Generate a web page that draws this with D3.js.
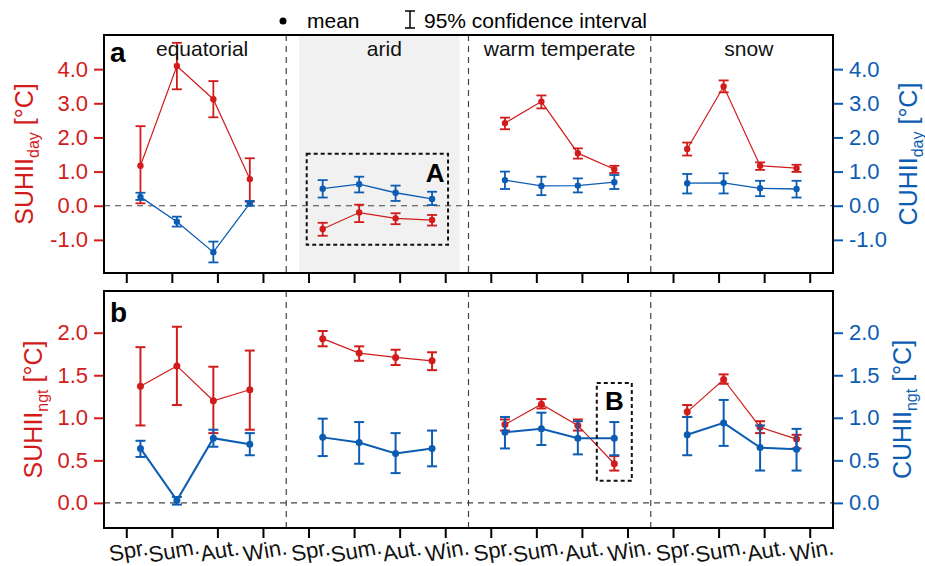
<!DOCTYPE html>
<html>
<head>
<meta charset="utf-8">
<script src="https://cdn.jsdelivr.net/npm/d3@7"></script>
<style>
  body { margin: 0; background: #fff; }
  svg text { font-family: "Liberation Sans", Arial, sans-serif; }
</style>
</head>
<body>
<div id="chart"></div>
<script>
// Data
const seasons = ["Spr.", "Sum.", "Aut.", "Win."];
const climates = ["equatorial", "arid", "warm temperate", "snow"];

// day (panel a), rows = climates, cols = seasons
const suhiiDay   = [[1.17, 4.09, 3.12, 0.78], [-0.68, -0.20, -0.37, -0.42], [2.42, 3.05, 1.54, 1.07], [1.66, 3.49, 1.17, 1.10]];
const suhiiDayLo = [[0.07, 3.41, 2.59, 0.12], [-0.88, -0.48, -0.54, -0.58], [2.24, 2.85, 1.38, 0.96], [1.47, 3.32, 1.05, 0.99]];
const suhiiDayHi = [[2.33, 4.77, 3.65, 1.39], [-0.50, 0.03, -0.22, -0.27], [2.58, 3.23, 1.68, 1.17], [1.85, 3.67, 1.27, 1.20]];
const cuhiiDay   = [[0.26, -0.47, -1.36, 0.07], [0.50, 0.63, 0.38, 0.20], [0.75, 0.58, 0.59, 0.69], [0.66, 0.67, 0.51, 0.49]];
const cuhiiDayLo = [[0.17, -0.61, -1.66, 0.00], [0.24, 0.39, 0.14, 0.02], [0.49, 0.31, 0.39, 0.49], [0.36, 0.36, 0.28, 0.24]];
const cuhiiDayHi = [[0.38, -0.32, -1.05, 0.14], [0.75, 0.85, 0.59, 0.41], [1.00, 0.85, 0.80, 0.90], [0.93, 0.95, 0.73, 0.73]];

// night (panel b)
const suhiiNgt   = [[1.37, 1.61, 1.20, 1.33], [1.93, 1.76, 1.71, 1.67], [0.92, 1.16, 0.91, 0.46], [1.07, 1.45, 0.89, 0.75]];
const suhiiNgtLo = [[0.91, 1.15, 0.82, 0.86], [1.84, 1.67, 1.62, 1.56], [0.85, 1.11, 0.85, 0.38], [1.01, 1.40, 0.82, 0.64]];
const suhiiNgtHi = [[1.83, 2.07, 1.60, 1.79], [2.02, 1.84, 1.80, 1.77], [0.98, 1.22, 0.98, 0.55], [1.15, 1.51, 0.96, 0.80]];
const cuhiiNgt   = [[0.64, 0.03, 0.76, 0.69], [0.77, 0.71, 0.58, 0.64], [0.83, 0.87, 0.76, 0.76], [0.80, 0.94, 0.65, 0.63]];
const cuhiiNgtLo = [[0.54, -0.02, 0.66, 0.56], [0.55, 0.46, 0.35, 0.43], [0.64, 0.68, 0.57, 0.56], [0.56, 0.67, 0.38, 0.38]];
const cuhiiNgtHi = [[0.73, 0.07, 0.86, 0.82], [0.99, 0.95, 0.82, 0.85], [1.01, 1.06, 0.96, 0.95], [1.01, 1.21, 0.91, 0.87]];

const dayTicks = [-1, 0, 1, 2, 3, 4];
const ngtTicks = [0, 0.5, 1, 1.5, 2];

// Layout
const W = 925, H = 566;
const RED = "#d21c1c", BLUE = "#0c5cb4";
const FONT_TICK = "22px", FONT_TEXT = "21px";
const plotLeft = 104, plotRight = 833;
const panelA = { top: 35, bottom: 273, domain: [-1.97, 5.0] };
const panelB = { top: 291, bottom: 528, domain: [-0.295, 2.49] };

const svg = d3.select("#chart").append("svg")
  .attr("width", W).attr("height", H);

// Scales
const xGroup = d3.scaleBand().domain(climates).range([plotLeft, plotRight]);
const xSeason = d3.scalePoint().domain(seasons).range([0, xGroup.bandwidth()]).padding(1);
const xTick = d3.scaleBand()
  .domain(climates.flatMap(c => seasons.map(s => c + "|" + s)))
  .range([plotLeft, plotRight]);

const fmt = d => d.toFixed(1);

function drawPanel(p, opt) {
  const y = d3.scaleLinear().domain(p.domain).range([p.bottom, p.top]);
  const g = svg.append("g");

  // arid shading (panel a only)
  if (opt.shadeArid) {
    g.append("rect")
      .attr("x", xGroup("arid") + 13)
      .attr("y", p.top + 1)
      .attr("width", xGroup.bandwidth() - 22)
      .attr("height", p.bottom - p.top - 2)
      .attr("fill", "#f1f1f1");
  }

  // group dividers
  g.selectAll(".divider")
    .data(climates.slice(1))
    .enter().append("line")
    .attr("x1", d => xGroup(d)).attr("x2", d => xGroup(d))
    .attr("y1", p.top).attr("y2", p.bottom)
    .attr("stroke", "#444").attr("stroke-width", 1.2)
    .attr("stroke-dasharray", "6,5");

  // zero line
  g.append("line")
    .attr("x1", plotLeft).attr("x2", plotRight)
    .attr("y1", y(0)).attr("y2", y(0))
    .attr("stroke", "#444").attr("stroke-width", 1.2)
    .attr("stroke-dasharray", "6,5");

  // series
  opt.series.forEach(s => {
    climates.forEach((c, ci) => {
      const pts = seasons.map((se, si) => ({
        x: xGroup(c) + xSeason(se),
        m: s.mean[ci][si], lo: s.lo[ci][si], hi: s.hi[ci][si]
      }));
      const sg = g.append("g");
      sg.append("path")
        .datum(pts)
        .attr("d", d3.line().x(d => d.x).y(d => y(d.m)))
        .attr("fill", "none")
        .attr("stroke", s.color)
        .attr("stroke-width", s.lineWidth);
      const eb = sg.selectAll(".eb").data(pts).enter().append("g");
      eb.append("line")
        .attr("x1", d => d.x).attr("x2", d => d.x)
        .attr("y1", d => y(d.lo)).attr("y2", d => y(d.hi))
        .attr("stroke", s.color).attr("stroke-width", s.barWidth);
      ["lo", "hi"].forEach(k => {
        eb.append("line")
          .attr("x1", d => d.x - 5).attr("x2", d => d.x + 5)
          .attr("y1", d => y(d[k])).attr("y2", d => y(d[k]))
          .attr("stroke", s.color).attr("stroke-width", s.barWidth);
      });
      eb.append("circle")
        .attr("cx", d => d.x).attr("cy", d => y(d.m))
        .attr("r", s.r).attr("fill", s.color);
    });
  });

  // annotation box
  if (opt.box) {
    const b = opt.box;
    const x0 = xGroup(b.climate) + xSeason(seasons[b.from]) - b.pad;
    const x1 = xGroup(b.climate) + xSeason(seasons[b.to]) + b.pad;
    g.append("rect")
      .attr("x", x0).attr("y", y(b.yHi))
      .attr("width", x1 - x0).attr("height", y(b.yLo) - y(b.yHi))
      .attr("fill", "none").attr("stroke", "#111")
      .attr("stroke-width", 2).attr("stroke-dasharray", "4,3");
    g.append("text")
      .attr("x", b.labelX(x0, x1)).attr("y", y(b.yHi) + b.labelDy)
      .attr("text-anchor", "middle")
      .attr("font-size", "26px").attr("font-weight", "bold")
      .text(b.label);
  }

  // frame
  g.append("rect")
    .attr("x", plotLeft).attr("y", p.top)
    .attr("width", plotRight - plotLeft).attr("height", p.bottom - p.top)
    .attr("fill", "none").attr("stroke", "#000").attr("stroke-width", 2);

  // left axis
  const la = g.append("g").attr("transform", `translate(${plotLeft - 1},0)`)
    .call(d3.axisLeft(y).tickValues(opt.ticks).tickFormat(fmt).tickSize(9).tickPadding(6));
  la.select(".domain").remove();
  la.selectAll("line").attr("stroke", RED).attr("stroke-width", 2);
  la.selectAll("text").attr("fill", RED).attr("font-size", FONT_TICK)
    .style("font-family", "'Liberation Sans', Arial, sans-serif");

  // right axis
  const ra = g.append("g").attr("transform", `translate(${plotRight + 1},0)`)
    .call(d3.axisRight(y).tickValues(opt.ticks).tickFormat(fmt).tickSize(9).tickPadding(6));
  ra.select(".domain").remove();
  ra.selectAll("line").attr("stroke", BLUE).attr("stroke-width", 2);
  ra.selectAll("text").attr("fill", BLUE).attr("font-size", FONT_TICK)
    .style("font-family", "'Liberation Sans', Arial, sans-serif");

  // bottom ticks
  const ba = g.append("g").attr("transform", `translate(0,${p.bottom + 1})`)
    .call(d3.axisBottom(xTick).tickSize(9).tickFormat(""));
  ba.select(".domain").remove();
  ba.selectAll("line").attr("stroke", "#000").attr("stroke-width", 2);

  if (opt.xLabels) {
    ba.selectAll(".tick text").remove();
    ba.selectAll(".tick").append("text")
      .attr("fill", "#111")
      .attr("font-size", "22px")
      .attr("text-anchor", "middle")
      .attr("transform", "translate(3,29) rotate(-10)")
      .text(d => d.split("|")[1]);
  }

  // panel letter
  g.append("text")
    .attr("x", plotLeft + 6).attr("y", p.top + opt.letterDy)
    .attr("font-size", "28px").attr("font-weight", "bold")
    .text(opt.letter);

  // axis titles
  function title(x, color, sub) {
    const t = g.append("text")
      .attr("transform", `translate(${x},${(p.top + p.bottom) / 2}) rotate(-90)`)
      .attr("text-anchor", "middle")
      .attr("fill", color)
      .attr("font-size", "25px");
    t.append("tspan").text(color === RED ? "SUHII" : "CUHII");
    t.append("tspan").attr("font-size", "16px").attr("dy", 6).text(sub);
    t.append("tspan").attr("dy", -6).text(" [°C]");
  }
  title(opt.leftTitleX, RED, opt.sub);
  title(opt.rightTitleX, BLUE, opt.sub);

  return y;
}

// Panel a
drawPanel(panelA, {
  shadeArid: true,
  ticks: dayTicks,
  letter: "a", letterDy: 27,
  sub: "day", leftTitleX: 33, rightTitleX: 917,
  series: [
    { mean: suhiiDay, lo: suhiiDayLo, hi: suhiiDayHi, color: RED, lineWidth: 1.2, barWidth: 1.8, r: 3.2 },
    { mean: cuhiiDay, lo: cuhiiDayLo, hi: cuhiiDayHi, color: BLUE, lineWidth: 1.3, barWidth: 1.8, r: 3.2 }
  ],
  box: { climate: "arid", from: 0, to: 3, pad: 16, yLo: -1.14, yHi: 1.52, label: "A",
         labelX: (x0, x1) => x1 - 13, labelDy: 28 }
});

// Panel b
drawPanel(panelB, {
  ticks: ngtTicks,
  xLabels: true,
  letter: "b", letterDy: 31,
  sub: "ngt", leftTitleX: 42, rightTitleX: 911,
  series: [
    { mean: suhiiNgt, lo: suhiiNgtLo, hi: suhiiNgtHi, color: RED, lineWidth: 1.2, barWidth: 2, r: 3.5 },
    { mean: cuhiiNgt, lo: cuhiiNgtLo, hi: cuhiiNgtHi, color: BLUE, lineWidth: 2, barWidth: 2, r: 3.5 }
  ],
  box: { climate: "warm temperate", from: 3, to: 3, pad: 17.5, yLo: 0.26, yHi: 1.41, label: "B",
         labelX: (x0, x1) => (x0 + x1) / 2, labelDy: 27 }
});

// Category labels
svg.selectAll(".cat")
  .data(climates)
  .enter().append("text")
  .attr("x", d => xGroup(d) + xGroup.bandwidth() / 2 + (d === "warm temperate" ? 0 : 7))
  .attr("y", 56)
  .attr("text-anchor", "middle")
  .attr("font-size", FONT_TEXT)
  .attr("fill", "#111")
  .text(d => d);

// Legend
const leg = svg.append("g");
leg.append("circle").attr("cx", 283).attr("cy", 21).attr("r", 3.5).attr("fill", "#000");
leg.append("text").attr("x", 307).attr("y", 28).attr("font-size", FONT_TEXT).text("mean");
leg.append("line").attr("x1", 410).attr("x2", 410).attr("y1", 11).attr("y2", 28).attr("stroke", "#000").attr("stroke-width", 1.5);
leg.append("line").attr("x1", 405).attr("x2", 415).attr("y1", 11).attr("y2", 11).attr("stroke", "#000").attr("stroke-width", 1.5);
leg.append("line").attr("x1", 405).attr("x2", 415).attr("y1", 28).attr("y2", 28).attr("stroke", "#000").attr("stroke-width", 1.5);
leg.append("text").attr("x", 424).attr("y", 28).attr("font-size", FONT_TEXT).text("95% confidence interval");
</script>
</body>
</html>
